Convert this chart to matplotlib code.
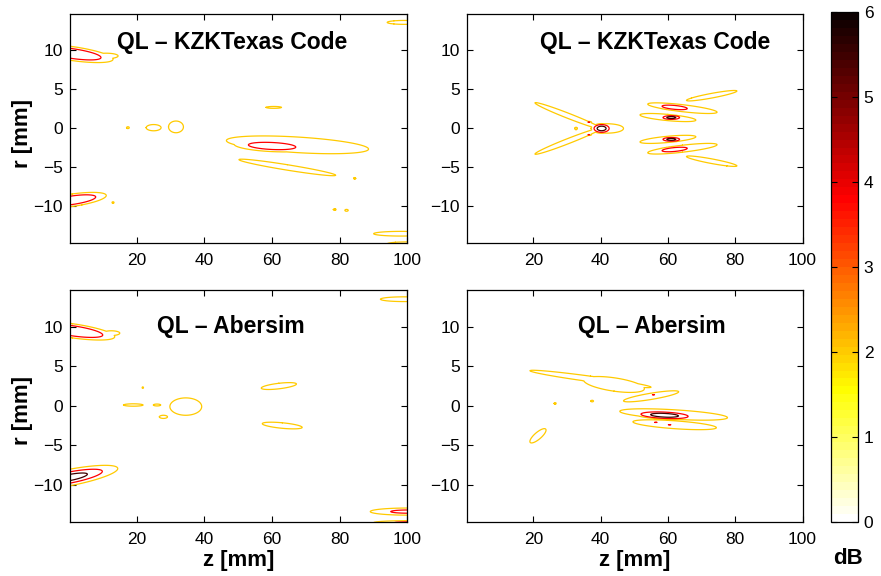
"""QL beam pattern differences (KZKTexas vs Abersim), contour maps in dB."""
import matplotlib
matplotlib.use("Agg")
import matplotlib.pyplot as plt
import numpy as np
from matplotlib.colors import ListedColormap

plt.rcParams["font.family"] = ["Liberation Sans", "DejaVu Sans"]

# Each lobe:
# (z centre, r centre, half-length at 2 dB, half-width at 2 dB, tilt dr/dz,
#  peak dB, flatness of the top)
kzk_left = [
    (1.0, 9.6, 12.0, 0.9, -0.06, 4.6, 2),
    (11.0, 9.3, 3.5, 0.35, 0.0, 2.4, 1),
    (99.0, 13.6, 5.0, 0.25, 0.0, 2.5, 1),
    (60.5, 2.7, 2.3, 0.12, 0.0, 2.3, 1),
    (17.4, 0.1, 0.4, 0.12, 0.0, 2.2, 1),
    (25.0, 0.1, 2.2, 0.4, 0.0, 2.5, 1),
    (31.6, 0.2, 2.2, 0.75, 0.0, 2.5, 2),
    (67.5, -2.1, 21.0, 1.0, -0.026, 3.0, 1),
    (60.0, -2.25, 11.2, 0.72, -0.02, 4.2, 2),
    (64.5, -5.0, 14.3, 0.35, -0.07, 2.4, 1),
    (84.4, -6.4, 0.3, 0.1, 0.0, 2.1, 1),
    (78.5, -10.4, 0.4, 0.1, 0.0, 2.1, 1),
    (82.0, -10.5, 0.5, 0.12, 0.0, 2.1, 1),
    (1.0, -9.2, 10.0, 0.8, 0.06, 4.5, 2),
    (13.0, -9.5, 0.3, 0.1, 0.0, 2.1, 1),
    (98.0, -13.5, 8.0, 0.3, 0.0, 2.6, 1),
    (100.0, -14.8, 6.0, 0.25, 0.0, 2.4, 1),
]

kzk_right = [
    (30.5, 1.6, 10.0, 0.35, -0.168, 2.5, 1),
    (30.5, -1.6, 10.0, 0.35, 0.168, 2.5, 1),
    (42.0, 0.0, 4.8, 0.6, 0.0, 3.0, 2),
    (40.3, 0.0, 2.8, 0.62, 0.0, 5.8, 2),
    (36.5, 0.8, 0.8, 0.1, 0.0, 4.0, 1),
    (36.5, -0.8, 0.8, 0.1, 0.0, 4.0, 1),
    (32.7, 0.0, 0.4, 0.15, 0.0, 2.2, 1),
    (73.0, 4.2, 7.5, 0.3, 0.08, 2.5, 1),
    (73.0, -4.2, 7.5, 0.3, -0.08, 2.5, 1),
    (64.3, 2.6, 10.3, 0.45, -0.05, 3.0, 1),
    (64.3, -2.6, 10.3, 0.45, 0.05, 3.0, 1),
    (62.0, 2.7, 6.0, 0.4, -0.04, 4.2, 2),
    (62.0, -2.7, 6.0, 0.4, 0.04, 4.2, 2),
    (60.0, 1.4, 8.3, 0.4, -0.04, 3.0, 1),
    (60.0, -1.4, 8.3, 0.4, 0.04, 3.0, 1),
    (61.0, 1.4, 3.1, 0.3, 0.0, 5.7, 2),
    (61.0, -1.4, 3.1, 0.3, 0.0, 5.7, 2),
]

aber_left = [
    (1.0, 9.5, 12.5, 0.9, -0.06, 4.7, 2),
    (12.5, 9.2, 2.5, 0.3, 0.0, 2.4, 1),
    (99.0, 13.5, 7.0, 0.3, 0.0, 2.5, 1),
    (62.0, 2.5, 5.2, 0.35, 0.05, 2.5, 1),
    (63.0, -2.5, 5.9, 0.35, -0.04, 2.5, 1),
    (19.0, 0.1, 2.9, 0.15, 0.0, 2.5, 1),
    (26.0, 0.1, 1.1, 0.12, 0.0, 2.4, 1),
    (34.5, -0.1, 4.7, 1.1, 0.0, 2.5, 2),
    (27.9, -1.4, 1.2, 0.2, 0.0, 2.4, 1),
    (21.8, 2.3, 0.2, 0.1, 0.0, 2.1, 1),
    (0.0, -9.1, 14.4, 1.05, 0.08, 6.5, 1),
    (100.0, -13.4, 11.0, 0.45, 0.0, 4.4, 1),
    (100.0, -14.8, 10.0, 0.25, 0.0, 4.2, 1),
]

aber_right = [
    (37.0, 3.4, 18.0, 0.35, -0.058, 2.5, 1),
    (44.0, 2.7, 9.0, 0.85, -0.06, 2.5, 1),
    (55.0, 1.2, 8.2, 0.4, 0.07, 2.5, 1),
    (55.7, 1.4, 1.0, 0.08, 0.0, 4.0, 1),
    (26.5, 0.3, 0.3, 0.1, 0.0, 2.1, 1),
    (37.5, 0.6, 0.4, 0.1, 0.0, 2.1, 1),
    (61.7, -1.1, 16.0, 0.6, -0.025, 3.0, 1),
    (59.0, -1.2, 8.75, 0.5, -0.02, 5.8, 2),
    (62.0, -2.4, 12.4, 0.5, -0.03, 2.5, 1),
    (56.4, -2.1, 1.2, 0.08, 0.0, 4.0, 1),
    (60.5, -2.4, 1.2, 0.08, 0.0, 4.0, 1),
    (21.4, -3.8, 2.4, 0.55, 0.3, 2.5, 2),
]

panels = [kzk_left, kzk_right, aber_left, aber_right]
titles = ["QL \u2013 KZKTexas Code", "QL \u2013 KZKTexas Code",
          "QL \u2013 Abersim", "QL \u2013 Abersim"]
levels = [2.0, 3.75, 5.5]
z_ticks = [20, 40, 60, 80, 100]
r_ticks = [-10, -5, 0, 5, 10]
cbar_ticks = [0, 1, 2, 3, 4, 5, 6]

z = np.linspace(0, 100, 1001)
r = np.linspace(-15, 15, 601)
Z, R = np.meshgrid(z, r)


def build_field(lobes):
    # the 2 dB contour of each lobe is the ellipse given by its half axes
    field = np.zeros_like(Z)
    for zc, rc, hl, hw, tilt, peak, p in lobes:
        u = (Z - zc) / hl
        v = (R - rc - tilt * (Z - zc)) / hw
        d2 = u ** 2 + v ** 2
        field = np.maximum(field, peak * np.exp(np.log(2.0 / peak) * d2 ** p))
    return field


cmap = ListedColormap(plt.cm.hot_r(np.linspace(0, 1, 64)))

fig = plt.figure(figsize=(8.81, 5.76), dpi=100)
rects = [
    [0.0795, 0.578, 0.383, 0.398],
    [0.530, 0.578, 0.381, 0.398],
    [0.0795, 0.094, 0.383, 0.403],
    [0.530, 0.094, 0.381, 0.403],
]
title_x = [0.48, 0.56, 0.475, 0.55]
title_y = [0.875, 0.875, 0.84, 0.84]

for i, lobes in enumerate(panels):
    ax = fig.add_axes(rects[i])
    ax.contour(Z, R, build_field(lobes), levels=levels, cmap=cmap,
               vmin=0, vmax=6, linewidths=0.9)
    ax.set_xlim(0.3, 100)
    ax.set_ylim(-14.7, 14.7)
    ax.set_xticks(z_ticks)
    ax.set_yticks(r_ticks)
    ax.tick_params(direction="in", length=4, width=0.8, labelsize=12.5,
                   top=True, right=True)
    ax.tick_params(axis="x", pad=7)
    ax.tick_params(axis="y", pad=5)
    if i >= 2:
        ax.set_xlabel("z [mm]", fontsize=16, fontweight="bold")
        ax.xaxis.set_label_coords(0.5, -0.122)
    if i % 2 == 0:
        ax.set_ylabel("r [mm]", fontsize=16, fontweight="bold")
        ax.yaxis.set_label_coords(-0.11, 0.48)
    ax.text(title_x[i], title_y[i], titles[i], transform=ax.transAxes,
            ha="center", va="center", fontsize=16.5, fontweight="bold")
    for sp in ax.spines.values():
        sp.set_linewidth(0.9)

cax = fig.add_axes([0.943, 0.094, 0.031, 0.885])
sm = plt.cm.ScalarMappable(cmap=cmap, norm=plt.Normalize(0, 6))
cb = fig.colorbar(sm, cax=cax, ticks=cbar_ticks)
cb.ax.tick_params(direction="in", length=4, width=0.8, labelsize=12.5,
                  left=True, right=True, pad=4)
cb.outline.set_linewidth(0.9)
fig.text(0.9625, 0.03, "dB", ha="center", va="center", fontsize=16,
         fontweight="bold")

fig.savefig("out.png", dpi=100)
